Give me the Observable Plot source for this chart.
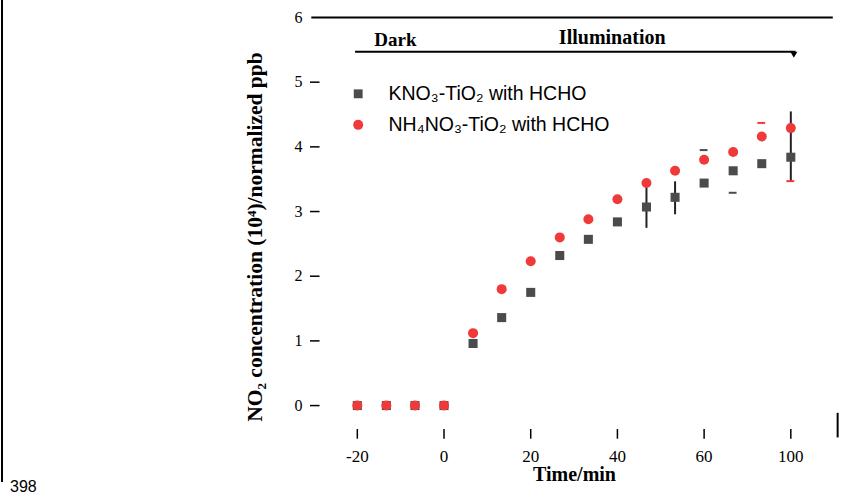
<!DOCTYPE html>
<html>
<head>
<meta charset="utf-8">
<script src="https://cdn.jsdelivr.net/npm/d3@7"></script>
<script src="https://cdn.jsdelivr.net/npm/@observablehq/plot@0.6"></script>
<style>
  html, body { margin: 0; padding: 0; background: #fff; }
  #wrap { position: relative; width: 854px; height: 499px; overflow: hidden; }
  #pageline { position: absolute; left: 1px; top: 0; width: 2px; height: 482px; background: #000; }
  #pagenum { position: absolute; left: 10px; top: 478px; font: 16px "Liberation Sans", sans-serif; color: #000; }
</style>
</head>
<body>
<div id="wrap">
  <div id="chart"></div>
  <div id="pageline"></div>
  <div id="pagenum">398</div>
</div>
<script>
// ---- data ----
const times = [-20, -13.3, -6.7, 0, 6.7, 13.3, 20, 26.7, 33.3, 40, 46.7, 53.3, 60, 66.7, 73.3, 80];
const kno3 = [0, 0, 0, 0, 0.96, 1.36, 1.75, 2.32, 2.57, 2.84, 3.07, 3.22, 3.44, 3.63, 3.74, 3.84];
const nh4no3 = [0, 0, 0, 0, 1.12, 1.80, 2.23, 2.60, 2.88, 3.19, 3.44, 3.63, 3.80, 3.92, 4.16, 4.29];
// error bars (low, high) for the KNO3 series; null = not visible
const kno3ErrLo = [null, null, null, null, null, null, null, null, null, null, 2.74, 2.95, null, null, null, 3.45];
const kno3ErrHi = [null, null, null, null, null, null, null, null, null, null, 3.38, 3.46, null, null, null, 4.54];
// visible error-bar caps
const capTimes = [60, 66.7, 73.3, 80];
const capValues = [3.95, 3.29, 4.37, 3.47];
const capSeries = ["k", "k", "n", "n"];

const seriesNames = ["KNO\u2083-TiO\u2082 with HCHO", "NH\u2084NO\u2083-TiO\u2082 with HCHO"];
const xTicks = [-20, 0, 20, 40, 60, 80];
const xTickLabels = ["-20", "0", "20", "40", "60", "100"];
const yTicks = [0, 1, 2, 3, 4, 5, 6];
const phaseLabels = ["Dark", "Illumination"];
const xTitle = "Time/min";
const yTitle = "NO\u2082 concentration (10\u2074)/normalized ppb";

// ---- layout / style ----
const xDomain = [-30.8, 91];
const yDomain = [-0.54, 6];
const darkColor = "#4b4b4b";
const redColor = "#f03a3a";
const serif = "Liberation Serif, Times New Roman, serif";
const sans = "Liberation Sans, Arial, sans-serif";
const legendX = -19.8, legendTextX = -12.8, legendY = [4.82, 4.34];
const phasePos = {dark: [-11.2, 5.66], illum: [38.8, 5.69]};
const arrowY = 5.47, arrowX = [-20.4, 81.2];
const yTickLen = 2.2, xTickLen = 0.17;

const rows = times.map((t, i) => ({t, k: kno3[i], n: nh4no3[i], lo: kno3ErrLo[i], hi: kno3ErrHi[i]}));
const errRows = rows.filter(d => d.lo != null);
const caps = capTimes.map((t, i) => ({t, v: capValues[i], s: capSeries[i]}));
const legend = seriesNames.map((name, i) => ({name, y: legendY[i], i}));
const xt = xTicks.map((v, i) => ({v, label: xTickLabels[i]}));

const chart = Plot.plot({
  width: 854,
  height: 499,
  marginLeft: 310,
  marginRight: 16,
  marginTop: 17,
  marginBottom: 59,
  style: {background: "#fff", fontFamily: serif},
  x: {domain: xDomain, axis: null},
  y: {domain: yDomain, axis: null},
  marks: [
    // top frame line and right frame stub
    Plot.ruleY([6], {x1: xDomain[0] + 0.3, x2: xDomain[1] - 1.2, stroke: "#000", strokeWidth: 2}),
    Plot.ruleX([xDomain[1] - 0.2], {y1: -0.12, y2: -0.5, stroke: "#000", strokeWidth: 2}),
    // y ticks and labels
    Plot.ruleY(yTicks.filter(v => v < 6), {x1: xDomain[0], x2: xDomain[0] + yTickLen, stroke: "#000", strokeWidth: 1.5}),
    Plot.text(yTicks, {x: xDomain[0], y: d => d, text: d => String(d), textAnchor: "end", dx: -8, fontSize: 16, fontFamily: serif, fill: "#000"}),
    // x ticks and labels
    Plot.ruleX(xTicks, {y1: yDomain[0] + 0.02, y2: yDomain[0] + xTickLen, stroke: "#000", strokeWidth: 1.5}),
    Plot.text(xt, {x: "v", y: yDomain[0], text: "label", dy: 16, fontSize: 17, fontFamily: serif, fill: "#000"}),
    // axis titles
    Plot.text([xTitle], {frameAnchor: "bottom", dy: 40, fontSize: 20, fontWeight: "bold", fontFamily: serif, fill: "#000"}),
    Plot.text([yTitle], {frameAnchor: "left", textAnchor: "middle", dx: -55, dy: 8, rotate: -90, fontSize: 21.5, fontWeight: "bold", fontFamily: serif, fill: "#000"}),
    // dark / illumination annotation
    Plot.text([phaseLabels[0]], {x: phasePos.dark[0], y: phasePos.dark[1], fontSize: 19, fontWeight: "bold", fontFamily: serif, fill: "#000"}),
    Plot.text([phaseLabels[1]], {x: phasePos.illum[0], y: phasePos.illum[1], fontSize: 20, fontWeight: "bold", fontFamily: serif, fill: "#000"}),
    Plot.ruleY([arrowY], {x1: arrowX[0], x2: arrowX[1], stroke: "#000", strokeWidth: 2}),
    Plot.dot([arrowX[1] - 0.5], {x: d => d, y: arrowY, symbol: "triangle", rotate: 180, r: 2.6, fill: "#000", dy: 2}),
    // error bars
    Plot.ruleX(errRows, {x: "t", y1: "lo", y2: "hi", stroke: "#222", strokeWidth: 2}),
    Plot.ruleY(caps, {y: "v", x1: d => d.t - 0.9, x2: d => d.t + 0.9, stroke: d => d.s === "k" ? darkColor : redColor, strokeWidth: 2}),
    // series
    Plot.dot(rows, {x: "t", y: "k", symbol: "square", r: 5.1, fill: darkColor}),
    Plot.dot(rows, {x: "t", y: "n", symbol: "circle", r: 5, fill: redColor}),
    // legend
    Plot.dot(legend, {x: legendX, y: "y", symbol: d => d.i === 0 ? "square" : "circle", r: 5, fill: d => d.i === 0 ? darkColor : redColor}),
    Plot.text(legend, {x: legendTextX, y: "y", text: "name", textAnchor: "start", fontSize: 19.5, fontFamily: sans, fill: "#000"})
  ]
});
document.getElementById("chart").appendChild(chart);
</script>
</body>
</html>
